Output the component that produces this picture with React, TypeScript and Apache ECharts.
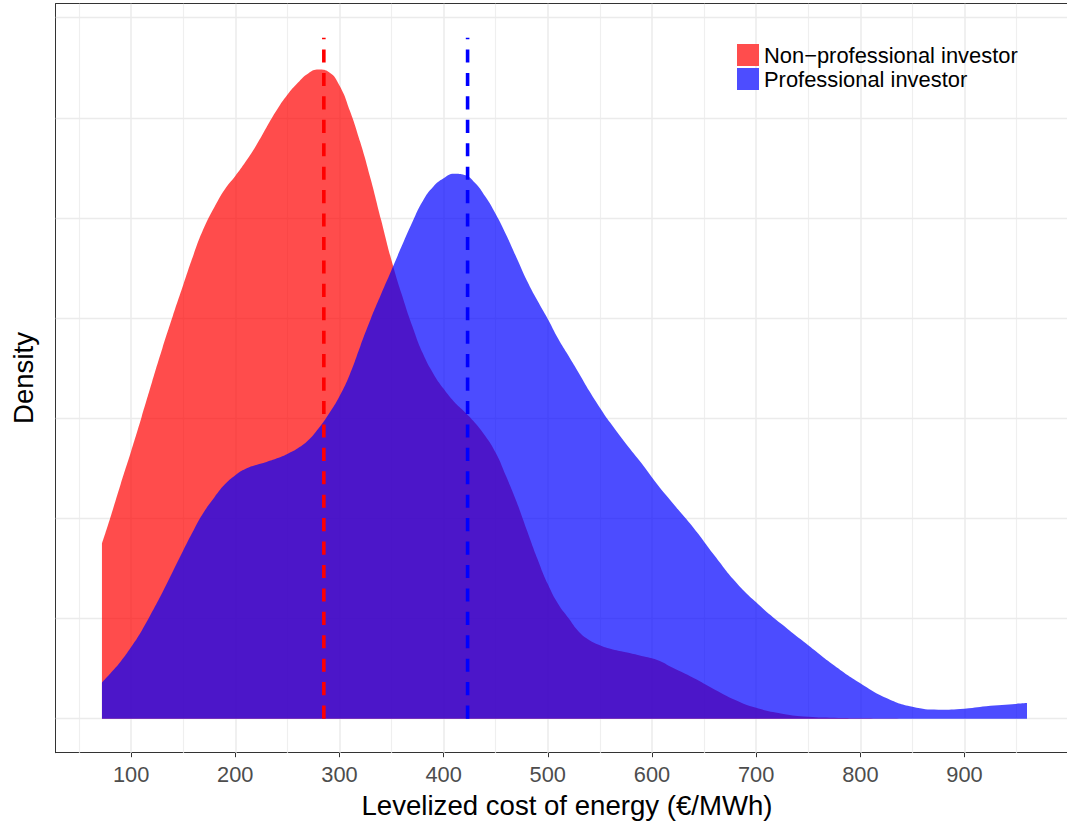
import React, { useEffect, useRef } from "react";
import * as echarts from "echarts";

// Levelized cost of energy (€/MWh) grid for the density estimates
const costValues = [
  72, 80, 90, 100, 110, 120, 130, 140, 150, 160, 170, 180, 190, 200, 210, 220, 230, 240, 250, 260,
  270, 280, 290, 300, 310, 320, 330, 340, 350, 360, 370, 380, 390, 400, 410, 420, 430, 440, 450,
  460, 470, 480, 490, 500, 510, 520, 530, 540, 550, 560, 575, 590, 605, 620, 640, 660, 680, 700,
  725, 750, 775, 800, 825, 850, 875, 900, 925, 960,
];

const nonProfessionalDensity = [
  0.000874, 0.001003, 0.001172, 0.001335, 0.001505, 0.00168, 0.00185, 0.00201, 0.002165,
  0.002318, 0.002452, 0.002555, 0.002644, 0.00271, 0.002782, 0.002862, 0.002953, 0.00304,
  0.003115, 0.003175, 0.003222, 0.003241, 0.003228, 0.003162, 0.003036, 0.002878, 0.002694,
  0.00249, 0.002288, 0.002115, 0.001959, 0.001824, 0.001724, 0.001647, 0.001583, 0.001533,
  0.001478, 0.001412, 0.001328, 0.00121, 0.001083, 0.00094, 0.000799, 0.000672, 0.000572,
  0.000501, 0.000433, 0.000392, 0.000367, 0.000349, 0.000331, 0.000313, 0.000293, 0.000254,
  0.000203, 0.000146, 0.000093, 0.000054, 0.000025, 0.00001, 0.000005, 0.000002, 0.000001, 0,
  0, 0, 0, 0,
];

const professionalDensity = [
  0.000181, 0.000226, 0.000286, 0.000358, 0.000438, 0.000532, 0.00063, 0.000735, 0.00084,
  0.000941, 0.001033, 0.001106, 0.00117, 0.001216, 0.001248, 0.001267, 0.001282, 0.0013,
  0.001322, 0.00135, 0.00139, 0.00145, 0.001524, 0.00161, 0.00172, 0.00186, 0.001995,
  0.00212, 0.00224, 0.002362, 0.00248, 0.002585, 0.002656, 0.002698, 0.002721, 0.002715,
  0.002676, 0.002607, 0.00252, 0.002416, 0.002302, 0.002187, 0.002088, 0.001996, 0.001897,
  0.001811, 0.001724, 0.001635, 0.001553, 0.001477, 0.001373, 0.001275, 0.00117, 0.001076,
  0.000952, 0.000815, 0.000685, 0.000581, 0.00047, 0.000367, 0.000266, 0.000177, 0.000103,
  0.000059, 0.000045, 0.00005, 0.000064, 0.000078,
];

// Group means (dashed lines)
const meanNonProfessional = 285;
const meanProfessional = 423;
const meanLineTop = 0.0034;

const seriesNames = ["Non\u2212professional investor", "Professional investor"];
const xTickLabels = [100, 200, 300, 400, 500, 600, 700, 800, 900];
const xMinorGrid = [50, 150, 250, 350, 450, 550, 650, 750, 850, 950];
const yGrid = [0, 0.0005, 0.001, 0.0015, 0.002, 0.0025, 0.003, 0.0035];

const FONT = "'Liberation Sans', Arial, Helvetica, sans-serif";
const X_MIN = 27.6;
const X_MAX = 998.4;

export default function App() {
  const ref = useRef<HTMLDivElement>(null);

  useEffect(() => {
    if (!ref.current) return;
    const chart = echarts.init(ref.current, null, { renderer: "svg" });

    const redData = costValues.map((x, i) => [x, nonProfessionalDensity[i]]);
    const blueData = costValues.map((x, i) => [x, professionalDensity[i]]);

    const gridLines: any[] = [];
    xTickLabels.forEach((v) =>
      gridLines.push({ xAxis: v, lineStyle: { color: "#ebebeb", width: 1.5, type: "solid" } })
    );
    xMinorGrid.forEach((v) =>
      gridLines.push({ xAxis: v, lineStyle: { color: "#efefef", width: 1.2, type: "solid" } })
    );
    yGrid.forEach((v) =>
      gridLines.push({ yAxis: v, lineStyle: { color: "#ebebeb", width: 1.4, type: "solid" } })
    );

    const borderLine = { show: true, onZero: false, lineStyle: { color: "#333333", width: 1 } };
    const dash = [13.1, 10.33];

    chart.setOption({
      animation: false,
      backgroundColor: "#ffffff",
      textStyle: { fontFamily: FONT },
      grid: {
        left: 55.7,
        top: 3.7,
        right: 0,
        height: 749,
        show: false,
        containLabel: false,
      },
      xAxis: [
        {
          type: "value",
          position: "bottom",
          min: X_MIN,
          max: X_MAX,
          axisLine: borderLine,
          splitLine: { show: false },
          axisTick: {
            show: true,
            length: 4.5,
            customValues: xTickLabels,
            lineStyle: { color: "#333333", width: 1 },
          },
          axisLabel: {
            show: true,
            customValues: xTickLabels,
            color: "#4d4d4d",
            fontSize: 21.8,
            fontFamily: FONT,
            verticalAlign: "middle",
            margin: 21.5,
          },
        },
        {
          type: "value",
          position: "top",
          min: X_MIN,
          max: X_MAX,
          axisLine: borderLine,
          splitLine: { show: false },
          axisTick: { show: false },
          axisLabel: { show: false },
        },
      ],
      yAxis: {
        type: "value",
        min: -0.00017,
        max: 0.00357,
        axisLine: borderLine,
        axisTick: { show: false },
        axisLabel: { show: false },
        splitLine: { show: false },
      },
      series: [
        {
          name: "grid",
          type: "line",
          data: [],
          silent: true,
          z: 1,
          markLine: {
            z: 1,
            silent: true,
            precision: 8,
            symbol: ["none", "none"],
            label: { show: false },
            emphasis: { disabled: true },
            data: gridLines,
          },
        },
        {
          name: seriesNames[0],
          type: "line",
          data: redData,
          smooth: 0.5,
          showSymbol: false,
          symbol: "none",
          z: 2,
          lineStyle: { width: 0, opacity: 0 },
          areaStyle: { color: "#ff0000", opacity: 0.7 },
          silent: true,
        },
        {
          name: seriesNames[1],
          type: "line",
          data: blueData,
          smooth: 0.5,
          showSymbol: false,
          symbol: "none",
          z: 2,
          lineStyle: { width: 0, opacity: 0 },
          areaStyle: { color: "#0000ff", opacity: 0.7 },
          silent: true,
        },
        {
          name: "mean non-professional",
          type: "line",
          data: [
            [meanNonProfessional, 0],
            [meanNonProfessional, meanLineTop],
          ],
          showSymbol: false,
          symbol: "none",
          z: 3,
          lineStyle: { color: "#ff0000", width: 3.6, type: dash, cap: "butt" },
          silent: true,
        },
        {
          name: "mean professional",
          type: "line",
          data: [
            [meanProfessional, 0],
            [meanProfessional, meanLineTop],
          ],
          showSymbol: false,
          symbol: "none",
          z: 3,
          lineStyle: { color: "#0000ff", width: 3.6, type: dash, cap: "butt" },
          silent: true,
        },
      ],
      graphic: [
        {
          type: "rect",
          shape: { x: 737, y: 44, width: 22, height: 22 },
          style: { fill: "#ff4d4d" },
          z: 10,
        },
        {
          type: "rect",
          shape: { x: 737, y: 68, width: 22, height: 22 },
          style: { fill: "#4d4dff" },
          z: 10,
        },
        {
          type: "text",
          x: 764,
          y: 55,
          z: 10,
          style: {
            text: seriesNames[0],
            fill: "#000000",
            font: `21.9px ${FONT}`,
            verticalAlign: "middle",
            align: "left",
          },
        },
        {
          type: "text",
          x: 764,
          y: 79,
          z: 10,
          style: {
            text: seriesNames[1],
            fill: "#000000",
            font: `21.9px ${FONT}`,
            verticalAlign: "middle",
            align: "left",
          },
        },
        {
          type: "text",
          x: 567,
          y: 805,
          z: 10,
          style: {
            text: "Levelized cost of energy (\u20ac/MWh)",
            fill: "#000000",
            font: `27.6px ${FONT}`,
            verticalAlign: "middle",
            align: "center",
          },
        },
        {
          type: "text",
          x: 23.3,
          y: 378,
          rotation: Math.PI / 2,
          z: 10,
          style: {
            text: "Density",
            fill: "#000000",
            font: `27.6px ${FONT}`,
            verticalAlign: "middle",
            align: "center",
          },
        },
      ],
    });

    return () => {
      chart.dispose();
    };
  }, []);

  return (
    <div
      ref={ref}
      style={{ position: "fixed", left: 0, top: 0, width: 1067, height: 823, background: "#fff" }}
    />
  );
}
